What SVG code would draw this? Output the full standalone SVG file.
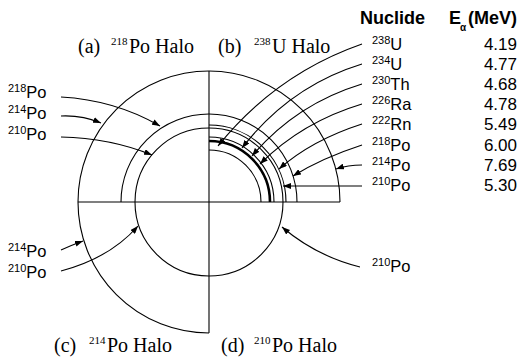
<svg xmlns="http://www.w3.org/2000/svg" width="524" height="357" viewBox="0 0 524 357">
<style>
.ln{fill:none;stroke:#000;stroke-width:1.1}
.thick{fill:none;stroke:#000;stroke-width:2.6}
.ar{fill:none;stroke:#000;stroke-width:1.1;marker-end:url(#ah)}
.lbl{font-family:"Liberation Sans",Arial,sans-serif;font-size:16.5px;fill:#000}
.sup{font-size:11px}
.cap{font-family:"Liberation Serif","Times New Roman",serif;font-size:20px;fill:#000}
.csup{font-size:11px}
.hd{font-family:"Liberation Sans",Arial,sans-serif;font-size:18px;font-weight:bold;fill:#000}
.val{font-family:"Liberation Sans",Arial,sans-serif;font-size:17px;fill:#000;text-anchor:end}
</style>
<defs>
<marker id="ah" viewBox="0 0 8 6" refX="8" refY="3" markerWidth="8" markerHeight="6" markerUnits="userSpaceOnUse" orient="auto">
<path d="M0,0 L8,3 L0,6 z" fill="#000"/>
</marker>
</defs>
<g id="halos">
<path class="ln" d="M78,202 H340 M209,71 V333"/>
<path class="ln" d="M78,202 A131,131 0 0 1 340,202"/>
<path class="ln" d="M78,202 A131,131 0 0 0 209,333"/>
<path class="ln" d="M121,202 A88,88 0 0 1 297,202"/>
<circle class="ln" cx="209" cy="202" r="74"/>
<path class="ln" d="M209,150 A52,52 0 0 1 261,202"/>
<path class="thick" d="M209,141 A61,61 0 0 1 270,202"/>
<path class="ln" d="M209,137 A65,65 0 0 1 274,202"/>
<path class="ln" d="M209,125 A77,77 0 0 1 286,202"/>
</g>
<g id="connectors">
<path class="ar" d="M61,97 Q115,100 160,126"/>
<path class="ar" d="M61,116 Q82,115 101,123"/>
<path class="ar" d="M61,137 Q110,138 152,155"/>
<path class="ar" d="M61,250 Q72,245 83,241"/>
<path class="ar" d="M61,271 Q110,258 138,226"/>
<path class="ar" d="M360,267 Q316,256 282,227"/>
<path class="ar" d="M362,44 Q276,74 218,146"/>
<path class="ar" d="M362,64 Q290,86 242,148"/>
<path class="ar" d="M362,84 Q296,104 252,156"/>
<path class="ar" d="M362,104 Q302,122 260,164"/>
<path class="ar" d="M362,124 Q312,140 279,169"/>
<path class="ar" d="M362,145 Q322,158 293,176"/>
<path class="ar" d="M362,165 Q348,165 336,169"/>
<path class="ar" d="M362,186 H283"/>
</g>
<g id="captions">
<text class="cap" y="53"><tspan x="78">(a)</tspan><tspan x="111" dy="-8" class="csup">218</tspan><tspan x="129" dy="8">Po Halo</tspan></text>
<text class="cap" y="53"><tspan x="218">(b)</tspan><tspan x="254" dy="-8" class="csup">238</tspan><tspan x="272" dy="8">U Halo</tspan></text>
<text class="cap" y="352"><tspan x="54">(c)</tspan><tspan x="89" dy="-8" class="csup">214</tspan><tspan x="107" dy="8">Po Halo</tspan></text>
<text class="cap" y="352"><tspan x="221">(d)</tspan><tspan x="254" dy="-8" class="csup">210</tspan><tspan x="272" dy="8">Po Halo</tspan></text>
</g>
<g id="left-labels">
<text class="lbl" x="8" y="98"><tspan class="sup" dy="-6">218</tspan><tspan dy="6">Po</tspan></text>
<text class="lbl" x="8" y="119"><tspan class="sup" dy="-6">214</tspan><tspan dy="6">Po</tspan></text>
<text class="lbl" x="8" y="140"><tspan class="sup" dy="-6">210</tspan><tspan dy="6">Po</tspan></text>
<text class="lbl" x="8" y="257"><tspan class="sup" dy="-6">214</tspan><tspan dy="6">Po</tspan></text>
<text class="lbl" x="8" y="278"><tspan class="sup" dy="-6">210</tspan><tspan dy="6">Po</tspan></text>
<text class="lbl" x="372" y="272"><tspan class="sup" dy="-6">210</tspan><tspan dy="6">Po</tspan></text>
</g>
<g id="table">
<text class="hd" x="360" y="24">Nuclide</text>
<text class="hd" x="449" y="24">E<tspan x="460" font-size="10" dy="7">α</tspan><tspan x="468" dy="-7">(MeV)</tspan></text>
<text class="lbl" x="372" y="50"><tspan class="sup" dy="-6">238</tspan><tspan dy="6">U</tspan></text>
<text class="lbl" x="372" y="70"><tspan class="sup" dy="-6">234</tspan><tspan dy="6">U</tspan></text>
<text class="lbl" x="372" y="90"><tspan class="sup" dy="-6">230</tspan><tspan dy="6">Th</tspan></text>
<text class="lbl" x="372" y="110"><tspan class="sup" dy="-6">226</tspan><tspan dy="6">Ra</tspan></text>
<text class="lbl" x="372" y="130"><tspan class="sup" dy="-6">222</tspan><tspan dy="6">Rn</tspan></text>
<text class="lbl" x="372" y="150.5"><tspan class="sup" dy="-6">218</tspan><tspan dy="6">Po</tspan></text>
<text class="lbl" x="372" y="170.5"><tspan class="sup" dy="-6">214</tspan><tspan dy="6">Po</tspan></text>
<text class="lbl" x="372" y="191"><tspan class="sup" dy="-6">210</tspan><tspan dy="6">Po</tspan></text>
<text class="val" x="517" y="50">4.19</text>
<text class="val" x="517" y="70">4.77</text>
<text class="val" x="517" y="90">4.68</text>
<text class="val" x="517" y="110">4.78</text>
<text class="val" x="517" y="130">5.49</text>
<text class="val" x="517" y="150.5">6.00</text>
<text class="val" x="517" y="170.5">7.69</text>
<text class="val" x="517" y="191">5.30</text>
</g>
</svg>
